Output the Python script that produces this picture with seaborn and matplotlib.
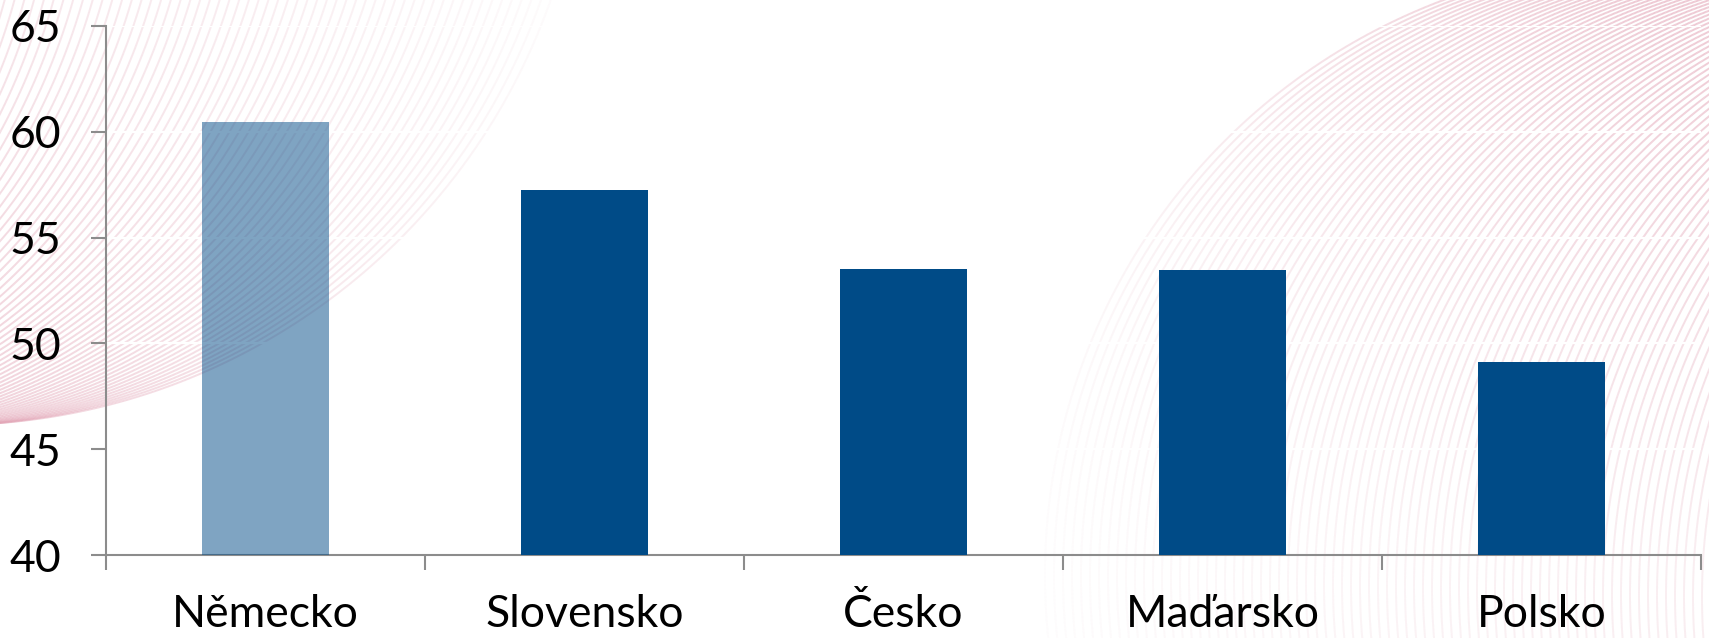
import numpy as np
import matplotlib
matplotlib.use("Agg")
import matplotlib.pyplot as plt
import seaborn as sns
from matplotlib.collections import LineCollection
from matplotlib.colors import to_rgb

# ---- data ----
countries = ["Německo", "Slovensko", "Česko", "Maďarsko", "Polsko"]
values = [60.45, 57.25, 53.5, 53.45, 49.1]
y_ticks = [40, 45, 50, 55, 60, 65]
bar_colors = ["#004B87", "#004B87", "#004B87", "#004B87", "#004B87"]
bar_alphas = [0.5, 1, 1, 1, 1]

sns.set_theme(style="white")
plt.rcParams["font.family"] = ["Lato", "DejaVu Sans"]

W, H = 1709, 638
fig = plt.figure(figsize=(W / 100, H / 100), dpi=100)
fig.patch.set_facecolor("white")

# ---- decorative background arcs (figure pixel coordinates) ----
bg = fig.add_axes([0, 0, 1, 1], zorder=0)
bg.set_xlim(0, W)
bg.set_ylim(H, 0)
bg.axis("off")

pink = np.array(to_rgb("#E3A3B5"))


def draw_arcs(cx0, cy0, dx, dy, R, n, fade):
    t = np.linspace(0, 2 * np.pi, 2881)
    segs, cols = [], []
    for i in range(n):
        cx = cx0 + i * dx
        cy = cy0 + i * dy
        x = cx + R * np.cos(t)
        y = cy + R * np.sin(t)
        p = np.column_stack([x, y])
        s = np.stack([p[:-1], p[1:]], axis=1)
        mx = s[:, :, 0].mean(axis=1)
        my = s[:, :, 1].mean(axis=1)
        m = (mx > -5) & (mx < W + 5) & (my > -5) & (my < H + 5)
        if not m.any():
            continue
        a = fade(mx[m], my[m])
        c = np.zeros((m.sum(), 4))
        c[:, :3] = pink
        c[:, 3] = a
        segs.append(s[m])
        cols.append(c)
    segs = np.concatenate(segs)
    cols = np.concatenate(cols)
    bg.add_collection(LineCollection(segs, colors=cols, linewidths=1.4))


def fade_tl(x, y):
    fx = np.clip(1 - x / 580, 0, 1)
    return 0.5 * fx ** 0.7 * (0.55 + 0.45 * np.clip(y / 430, 0, 1))


def fade_br(x, y):
    fx = np.clip((x - 1000) / 650, 0, 1)
    fy = np.clip(1 - y / 800, 0.3, 1)
    return 0.6 * fx ** 0.8 * fy


draw_arcs(-50, -212, -10, 0.8, 637, 72, fade_tl)
draw_arcs(1659, 575, 9, 0.3, 614, 75, fade_br)

# ---- main chart ----
ax = fig.add_axes([106 / W, 1 - 555 / H, (1701 - 106) / W, (555 - 26) / H], zorder=1)
ax.patch.set_alpha(0)

sns.barplot(x=countries, y=values, hue=countries, palette=bar_colors,
            width=0.4, saturation=1, legend=False, ax=ax, zorder=3)
for p, a in zip(ax.patches, bar_alphas):
    p.set_alpha(a)
    p.set_linewidth(0)

ax.set_ylim(40, 65)
ax.set_xlim(-0.5, len(countries) - 0.5)
ax.set_yticks(y_ticks)
ax.set_yticklabels([str(v) for v in y_ticks])
ax.set_xticks(np.arange(-0.5, len(countries), 1))
ax.set_xticklabels([])
ax.set_xticks(range(len(countries)), minor=True)
ax.set_xticklabels(countries, minor=True)

ax.set_xlabel("")
ax.set_ylabel("")
ax.set_axisbelow(True)
ax.grid(axis="y", color="white", linewidth=1.6)
ax.grid(axis="x", visible=False)

gray = "#8C8C8C"
for side in ["top", "right"]:
    ax.spines[side].set_visible(False)
for side in ["left", "bottom"]:
    ax.spines[side].set_color(gray)
    ax.spines[side].set_linewidth(1.5)

ax.tick_params(axis="y", left=True, length=11, width=1.5, color=gray,
               direction="out", pad=21, labelsize=32, labelcolor="black")
ax.tick_params(axis="x", which="major", bottom=True, length=11, width=1.5,
               color=gray, direction="out")
ax.tick_params(axis="x", which="minor", bottom=True, length=0, pad=28,
               labelsize=32, labelcolor="black")

fig.savefig("out.png", dpi=100, facecolor="white")
